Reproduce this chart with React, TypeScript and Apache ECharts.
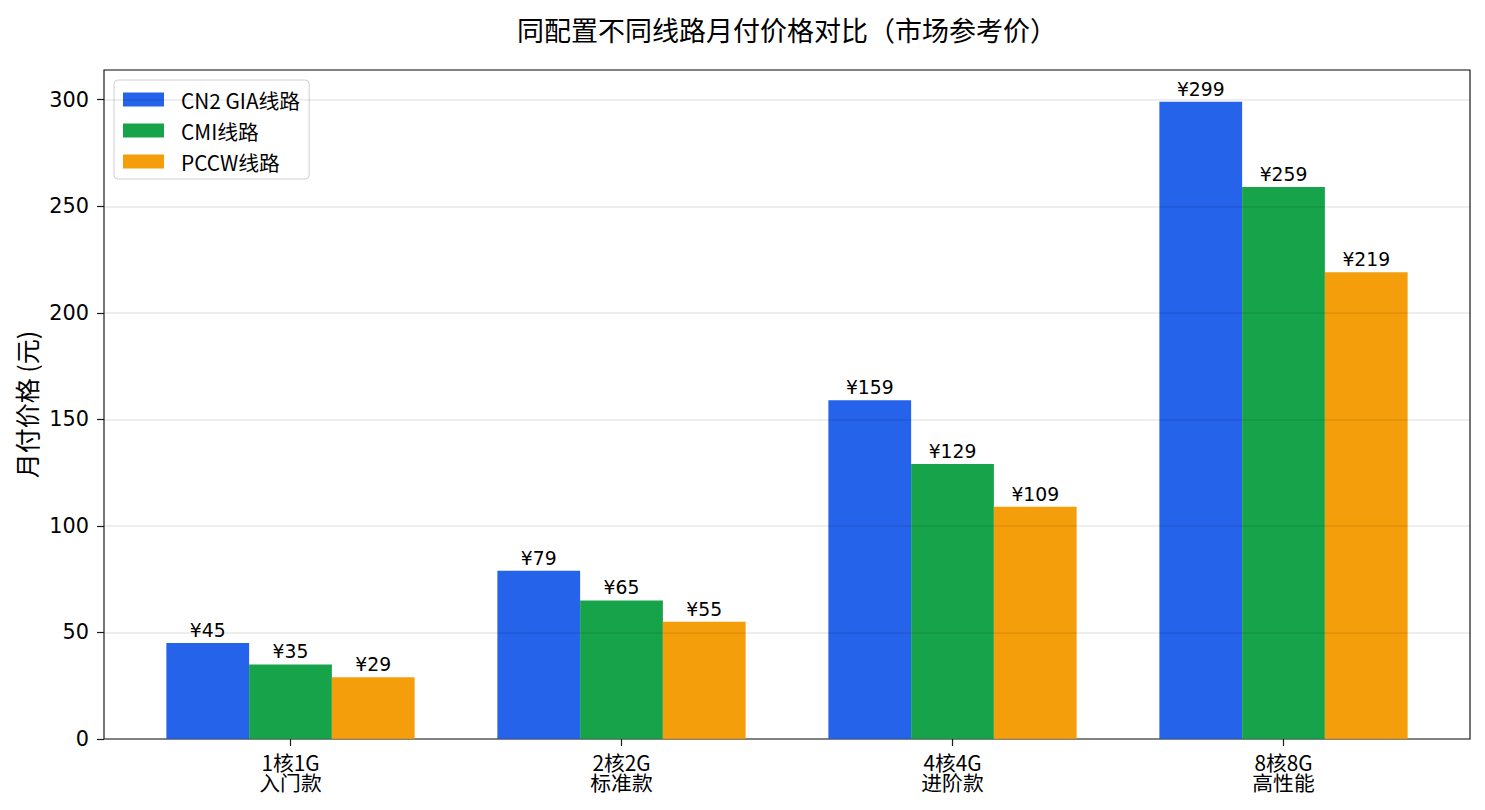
import React, { useEffect, useRef } from 'react';
import * as echarts from 'echarts';

// 套餐档位（两行标签）
const categories = ['1核1G\n入门款', '2核2G\n标准款', '4核4G\n进阶款', '8核8G\n高性能'];
const seriesNames = ['CN2 GIA线路', 'CMI线路', 'PCCW线路'];
const cn2Prices = [45, 79, 159, 299];
const cmiPrices = [35, 65, 129, 259];
const pccwPrices = [29, 55, 109, 219];
const colors = ['#2563eb', '#16a34a', '#f59e0b'];
const yTicks = [0, 50, 100, 150, 200, 250, 300];

const NUM_FONT = '"DejaVu Sans", sans-serif';
const CJK_FONT = '"Noto Sans CJK SC", sans-serif';

const App: React.FC = () => {
    const chartRef = useRef<HTMLDivElement | null>(null);

    useEffect(() => {
        if (!chartRef.current) return;
        const myChart = echarts.init(chartRef.current, null, { renderer: 'svg' });

        const yMax = yTicks[yTicks.length - 1] * 1.0465;
        const data = [cn2Prices, cmiPrices, pccwPrices];

        myChart.setOption({
            animation: false,
            textStyle: { fontFamily: CJK_FONT },
            title: {
                text: '同配置不同线路月付价格对比（市场参考价）',
                left: 782,
                top: 11,
                textAlign: 'center',
                textStyle: { fontSize: 27, fontWeight: 'normal', color: '#000', fontFamily: CJK_FONT },
            },
            legend: {
                orient: 'vertical',
                left: 114,
                top: 80,
                data: seriesNames,
                itemWidth: 41,
                itemHeight: 14,
                itemGap: 10,
                padding: [9, 9, 7, 9],
                backgroundColor: '#fff',
                borderColor: '#d0d0d0',
                borderWidth: 1,
                borderRadius: 4,
                icon: 'rect',
                textStyle: { fontSize: 20.8, lineHeight: 21, color: '#000', padding: [0, 0, 0, 12], fontFamily: CJK_FONT },
            },
            grid: [
                { left: 125, right: 36, top: 70, bottom: 71 },
                { left: 104, right: 15, top: 70, bottom: 71, show: true, borderColor: '#1a1a1a', borderWidth: 1.2, backgroundColor: 'transparent' },
            ],
            xAxis: [
                {
                    type: 'category',
                    gridIndex: 0,
                    data: categories,
                    axisLine: { show: false },
                    axisTick: { show: true, alignWithLabel: true, length: 7, lineStyle: { color: '#1a1a1a', width: 1.2 } },
                    axisLabel: { fontSize: 20.8, lineHeight: 20, color: '#000', margin: 13, fontFamily: CJK_FONT },
                },
                {
                    type: 'value',
                    gridIndex: 1,
                    show: false,
                },
            ],
            yAxis: [
                {
                    type: 'value',
                    gridIndex: 0,
                    min: 0,
                    max: yMax,
                    show: false,
                },
                {
                    type: 'value',
                    gridIndex: 1,
                    min: 0,
                    max: yMax,
                    interval: 50,
                    z: 5,
                    name: '月付价格 (元)',
                    nameLocation: 'middle',
                    nameGap: 63,
                    nameTextStyle: { fontSize: 25, color: '#000', fontFamily: CJK_FONT },
                    axisLine: { show: false },
                    axisTick: { show: true, length: 7, lineStyle: { color: '#1a1a1a', width: 1.2 } },
                    axisLabel: { fontSize: 20.8, color: '#000', margin: 15, showMaxLabel: false, fontFamily: NUM_FONT },
                    splitLine: { show: true, lineStyle: { color: 'rgba(0,0,0,0.09)', width: 1.5 } },
                },
            ],
            series: seriesNames.map((name, i) => ({
                name,
                type: 'bar',
                xAxisIndex: 0,
                yAxisIndex: 0,
                data: data[i],
                barWidth: '25%',
                barGap: '0%',
                itemStyle: { color: colors[i] },
                label: {
                    show: true,
                    position: 'top',
                    distance: 3,
                    formatter: (p: any) => `¥${p.value}`,
                    fontSize: 18.75,
                    color: '#000',
                    fontFamily: NUM_FONT,
                },
            })),
        });

        const onResize = () => myChart.resize();
        window.addEventListener('resize', onResize);
        return () => {
            window.removeEventListener('resize', onResize);
            myChart.dispose();
        };
    }, []);

    return <div ref={chartRef} style={{ width: '1485px', height: '810px', margin: '-8px' }} />;
};

export default App;
